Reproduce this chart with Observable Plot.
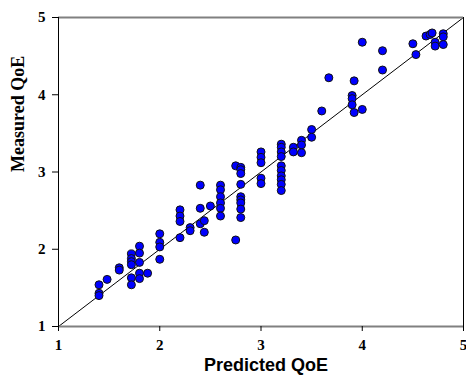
<!DOCTYPE html>
<html>
<head>
<meta charset="utf-8">
<script src="https://cdn.jsdelivr.net/npm/d3@7"></script>
<script src="https://cdn.jsdelivr.net/npm/@observablehq/plot@0.6"></script>
<style>
  html, body { margin: 0; padding: 0; background: white; }
  #chart { width: 466px; height: 380px; overflow: hidden; }
</style>
</head>
<body>
<div id="chart"></div>
<script>
const predicted = [
  1.40, 1.40, 1.40,
  1.48,
  1.60, 1.60,
  1.72, 1.72, 1.72, 1.72, 1.72, 1.72,
  1.80, 1.80, 1.80, 1.80, 1.80,
  1.88,
  2.00, 2.00, 2.00, 2.00,
  2.20, 2.20, 2.20, 2.20,
  2.30, 2.30,
  2.40, 2.40, 2.40,
  2.44, 2.44,
  2.50,
  2.60, 2.60, 2.60, 2.60, 2.60, 2.60,
  2.75, 2.75,
  2.80, 2.80, 2.80, 2.80, 2.80, 2.80, 2.80, 2.80, 2.80,
  3.00, 3.00, 3.00, 3.00, 3.00,
  3.20, 3.20, 3.20, 3.20, 3.20, 3.20, 3.20, 3.20, 3.20, 3.20,
  3.32, 3.32,
  3.40, 3.40, 3.40,
  3.50, 3.50,
  3.60,
  3.67,
  3.90, 3.90, 3.90,
  3.92, 3.92,
  4.00, 4.00,
  4.20, 4.20,
  4.50, 4.53, 4.63, 4.67, 4.69, 4.72, 4.72, 4.80, 4.80, 4.80
];
const measured = [
  1.54, 1.43, 1.40,
  1.61,
  1.76, 1.73,
  1.94, 1.88, 1.84, 1.80, 1.63, 1.54,
  2.04, 1.95, 1.83, 1.69, 1.62,
  1.69,
  2.20, 2.09, 2.03, 1.87,
  2.51, 2.43, 2.36, 2.15,
  2.28, 2.24,
  2.83, 2.53, 2.33,
  2.37, 2.22,
  2.56,
  2.83, 2.77, 2.68, 2.60, 2.53, 2.43,
  2.12, 3.08,
  3.06, 3.03, 2.98, 2.84, 2.68, 2.64, 2.60, 2.52, 2.41,
  3.26, 3.19, 3.12, 2.92, 2.85,
  3.36, 3.32, 3.26, 3.20, 3.08, 3.02, 2.95, 2.90, 2.84, 2.76,
  3.32, 3.26,
  3.41, 3.35, 3.25,
  3.55, 3.45,
  3.79,
  4.22,
  3.99, 3.95, 3.87,
  4.18, 3.77,
  4.68, 3.81,
  4.57, 4.32,
  4.66, 4.52, 4.76, 4.78, 4.80, 4.68, 4.63, 4.79, 4.75, 4.65
];
const axisTicks = [1, 2, 3, 4, 5];
const identityLine = [1, 5];
const xLabel = "Predicted QoE";
const yLabel = "Measured QoE";

const points = predicted.map((p, i) => ({predicted: p, measured: measured[i]}));

const serif = "'Liberation Serif', 'Times New Roman', serif";
const sans = "'Liberation Sans', Arial, sans-serif";

const chart = Plot.plot({
  width: 466,
  height: 380,
  marginLeft: 58,
  marginRight: 3,
  marginTop: 17,
  marginBottom: 54,
  style: {background: "white", overflow: "hidden"},
  x: {domain: [1, 5]},
  y: {domain: [1, 5]},
  marks: [
    Plot.line(identityLine, {x: d => d, y: d => d, stroke: "black", strokeWidth: 1}),
    Plot.dot(points, {x: "predicted", y: "measured", r: 4, fill: "#0000ff", stroke: "#111", strokeWidth: 1}),
    Plot.ruleY([1, 5], {stroke: "#808080", strokeWidth: 2}),
    Plot.ruleX([1, 5], {stroke: "black", strokeWidth: 1}),
    Plot.axisX({ticks: axisTicks, tickFormat: "d", tickSize: 5, tickPadding: 8, label: null,
      fontFamily: serif, fontSize: 15, fontWeight: "bold", fill: "black"}),
    Plot.axisY({ticks: axisTicks, tickFormat: "d", tickSize: 6, tickPadding: 7, label: null,
      fontFamily: serif, fontSize: 15, fontWeight: "bold", fill: "black"}),
    Plot.text([xLabel], {text: d => d, frameAnchor: "bottom", dy: 44, dx: 5,
      fontFamily: sans, fontSize: 18, fontWeight: "bold", fill: "black"}),
    Plot.text([yLabel], {text: d => d, frameAnchor: "left", dx: -40, dy: 0, rotate: -90,
      fontFamily: serif, fontSize: 18, fontWeight: "bold", fill: "black"})
  ]
});
document.getElementById("chart").appendChild(chart);
</script>
</body>
</html>
